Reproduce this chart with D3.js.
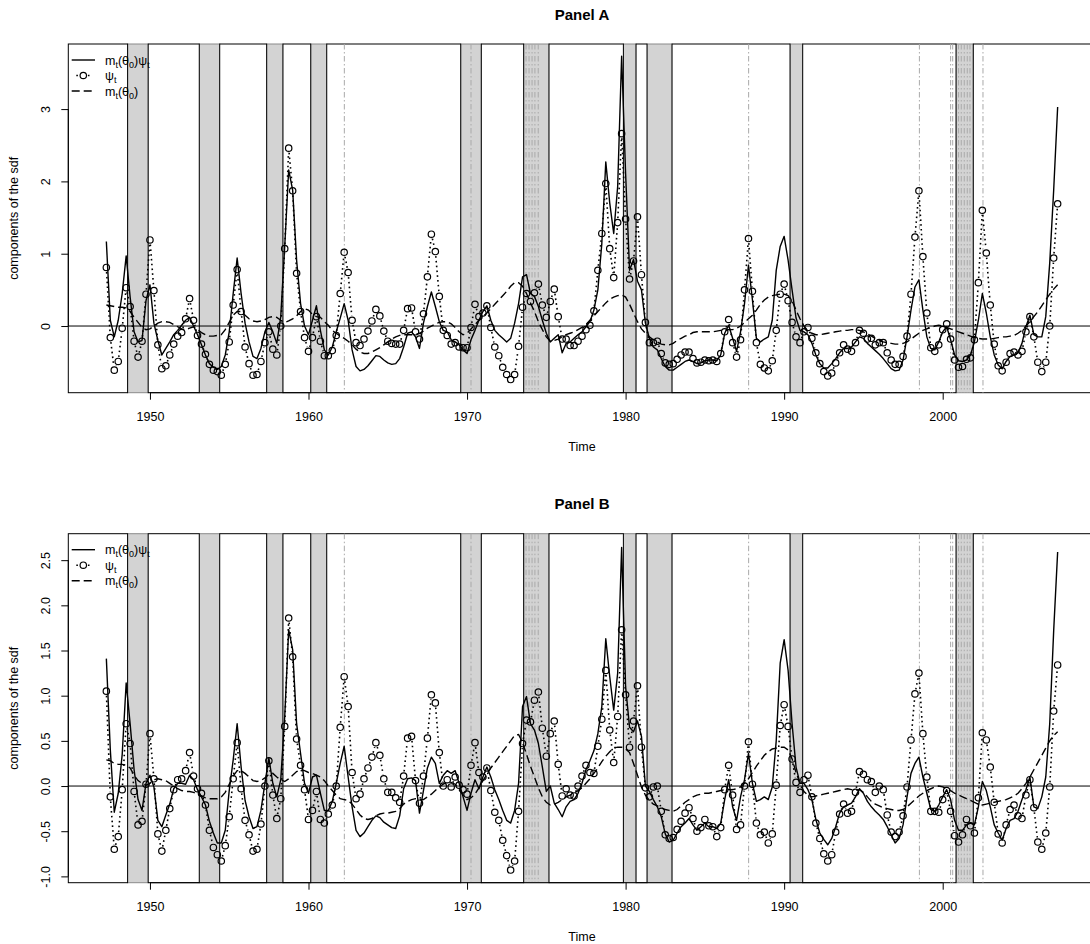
<!DOCTYPE html>
<html>
<head>
<meta charset="utf-8">
<script src="https://cdn.jsdelivr.net/npm/d3@7"></script>
<style>
  body { margin: 0; background: #fff; }
  svg text { font-family: "Liberation Sans", Arial, Helvetica, sans-serif; }
</style>
</head>
<body>
<svg id="chart"></svg>
<script>
// quarterly time index, 1947Q2 .. 2007Q2
const quarters = d3.range(241).map(i => 1947.25 + i / 4);

// NBER-type shaded periods and event lines (years)
const recessions = [[1948.59, 1949.89], [1953.11, 1954.40], [1957.36, 1958.39], [1960.14, 1961.15],
  [1969.60, 1970.90], [1973.57, 1975.17], [1979.86, 1980.66], [1981.35, 1982.93],
  [1990.37, 1991.17], [2000.84, 2001.93]];
const eventLines = [1962.26, 1970.25, 1973.72, 1973.91, 1974.10, 1974.28, 1974.49, 1987.76,
  1998.53, 2000.50, 2000.63, 2001.00, 2001.17, 2001.36, 2001.55, 2001.72, 2002.54];

const xTicks = [1950, 1960, 1970, 1980, 1990, 2000];
const yTicksA = [0, 1, 2, 3];
const yTicksB = [-1, -0.5, 0, 0.5, 1, 1.5, 2, 2.5];

// Panel A
const psiA = [
  0.81, -0.16, -0.61, -0.49, -0.03, 0.53, 0.27, -0.21, -0.43, -0.21,
  0.44, 1.19, 0.49, -0.26, -0.59, -0.55, -0.40, -0.25, -0.14, -0.09,
  0.10, 0.38, 0.08, -0.13, -0.25, -0.39, -0.53, -0.61, -0.63, -0.68,
  -0.53, -0.22, 0.29, 0.78, 0.20, -0.29, -0.52, -0.68, -0.67, -0.49,
  -0.23, -0.08, -0.32, -0.40, 0.00, 1.07, 2.46, 1.87, 0.73, 0.20,
  -0.16, -0.35, -0.16, 0.13, -0.21, -0.41, -0.41, -0.34, -0.13, 0.45,
  1.02, 0.74, 0.08, -0.23, -0.27, -0.18, -0.07, 0.07, 0.23, 0.14,
  -0.07, -0.21, -0.24, -0.25, -0.25, -0.06, 0.24, 0.25, -0.08, -0.18,
  0.17, 0.68, 1.27, 1.03, 0.41, -0.06, -0.13, -0.25, -0.23, -0.29,
  -0.30, -0.30, -0.02, 0.30, 0.13, 0.18, 0.28, -0.02, -0.29, -0.41,
  -0.57, -0.67, -0.74, -0.67, -0.28, 0.26, 0.45, 0.34, 0.46, 0.58,
  0.29, 0.12, 0.34, 0.51, 0.13, -0.18, -0.18, -0.27, -0.27, -0.21,
  -0.14, -0.05, 0.01, 0.21, 0.77, 1.28, 1.97, 1.07, 0.67, 1.43,
  2.66, 1.48, 0.65, 0.90, 1.51, 0.71, 0.05, -0.23, -0.23, -0.21,
  -0.38, -0.51, -0.53, -0.52, -0.46, -0.40, -0.36, -0.36, -0.45, -0.51,
  -0.50, -0.47, -0.48, -0.47, -0.49, -0.38, -0.08, 0.09, -0.23, -0.43,
  -0.19, 0.50, 1.21, 0.48, -0.23, -0.53, -0.58, -0.62, -0.48, -0.06,
  0.44, 0.58, 0.35, 0.05, -0.15, -0.23, -0.08, -0.02, -0.17, -0.37,
  -0.52, -0.63, -0.69, -0.65, -0.51, -0.37, -0.26, -0.32, -0.35, -0.23,
  -0.06, -0.10, -0.18, -0.17, -0.26, -0.23, -0.23, -0.37, -0.47, -0.53,
  -0.53, -0.42, -0.14, 0.44, 1.23, 1.87, 0.96, 0.18, -0.30, -0.35,
  -0.26, -0.05, 0.03, -0.18, -0.47, -0.57, -0.56, -0.46, -0.44, -0.19,
  0.60, 1.60, 1.01, 0.29, -0.25, -0.55, -0.62, -0.50, -0.38, -0.36,
  -0.40, -0.35, -0.08, 0.13, -0.15, -0.50, -0.63, -0.50, 0.00, 0.94,
  1.69];
const mpsiA = [
  1.17, 0.08, -0.15, 0.08, 0.45, 0.97, 0.40, -0.08, -0.22, -0.20,
  0.35, 0.57, 0.04, -0.20, -0.40, -0.31, -0.22, -0.12, -0.06, 0.01,
  0.08, 0.12, 0.00, -0.12, -0.26, -0.40, -0.52, -0.57, -0.60, -0.56,
  -0.40, -0.08, 0.45, 0.94, 0.45, 0.04, -0.22, -0.42, -0.45, -0.31,
  -0.08, 0.05, -0.08, -0.24, 0.13, 1.10, 2.16, 1.88, 0.91, 0.31,
  0.00, -0.12, 0.08, 0.28, -0.06, -0.33, -0.40, -0.29, -0.08, 0.11,
  0.31, 0.08, -0.33, -0.56, -0.62, -0.60, -0.55, -0.48, -0.41, -0.42,
  -0.47, -0.51, -0.53, -0.52, -0.45, -0.29, -0.10, -0.08, -0.15, -0.31,
  0.04, 0.27, 0.47, 0.27, 0.06, -0.06, -0.08, -0.19, -0.22, -0.26,
  -0.33, -0.38, -0.19, -0.06, 0.08, 0.20, 0.28, 0.08, -0.06, -0.12,
  -0.17, -0.22, -0.17, 0.04, 0.31, 0.68, 0.71, 0.45, 0.41, 0.27,
  0.08, -0.10, -0.22, -0.17, -0.12, -0.37, -0.24, -0.22, -0.17, -0.12,
  -0.08, -0.01, 0.06, 0.22, 0.50, 1.14, 2.27, 1.70, 1.28, 1.93,
  3.73, 2.11, 0.77, 0.92, 0.62, 0.50, 0.04, -0.17, -0.29, -0.33,
  -0.45, -0.56, -0.61, -0.61, -0.57, -0.53, -0.49, -0.47, -0.49, -0.52,
  -0.51, -0.48, -0.47, -0.47, -0.48, -0.40, -0.10, 0.01, -0.17, -0.35,
  -0.08, 0.31, 0.84, 0.36, -0.17, -0.22, -0.18, -0.15, 0.08, 0.77,
  1.10, 1.24, 0.91, 0.50, 0.11, -0.06, -0.08, -0.12, -0.24, -0.40,
  -0.52, -0.58, -0.58, -0.52, -0.45, -0.37, -0.31, -0.31, -0.29, -0.22,
  -0.15, -0.17, -0.24, -0.29, -0.34, -0.39, -0.45, -0.52, -0.59, -0.62,
  -0.61, -0.47, -0.15, 0.22, 0.54, 0.64, 0.22, -0.15, -0.31, -0.33,
  -0.22, -0.08, -0.01, -0.19, -0.40, -0.48, -0.49, -0.47, -0.40, -0.22,
  0.08, 0.45, 0.18, -0.15, -0.40, -0.54, -0.59, -0.49, -0.42, -0.40,
  -0.37, -0.24, -0.01, 0.15, -0.12, -0.15, -0.15, 0.13, 0.87, 1.88,
  3.03];
const mA = [
  0.29, 0.28, 0.27, 0.26, 0.26, 0.25, 0.20, 0.12, 0.05, -0.02,
  -0.05, -0.04, 0.00, 0.04, 0.06, 0.06, 0.05, 0.02, -0.01, -0.04,
  -0.05, -0.03, -0.01, -0.05, -0.09, -0.12, -0.14, -0.14, -0.13, -0.12,
  -0.05, 0.05, 0.15, 0.20, 0.20, 0.15, 0.10, 0.07, 0.06, 0.07,
  0.09, 0.12, 0.13, 0.12, 0.08, 0.05, 0.07, 0.10, 0.14, 0.20,
  0.24, 0.22, 0.16, 0.13, 0.12, 0.06, 0.01, -0.06, -0.10, -0.14,
  -0.17, -0.21, -0.26, -0.32, -0.36, -0.38, -0.38, -0.36, -0.33, -0.30,
  -0.26, -0.22, -0.18, -0.15, -0.13, -0.12, -0.12, -0.12, -0.12, -0.10,
  -0.07, -0.03, 0.00, 0.03, 0.05, 0.06, 0.06, 0.03, -0.02, -0.08,
  -0.12, -0.10, -0.04, 0.02, 0.08, 0.13, 0.18, 0.24, 0.30, 0.36,
  0.42, 0.48, 0.55, 0.60, 0.60, 0.55, 0.45, 0.32, 0.20, 0.06,
  -0.05, -0.15, -0.21, -0.20, -0.18, -0.15, -0.12, -0.10, -0.08, -0.05,
  -0.02, 0.02, 0.08, 0.14, 0.20, 0.26, 0.32, 0.37, 0.40, 0.42,
  0.43, 0.40, 0.30, 0.18, 0.06, -0.04, -0.10, -0.15, -0.19, -0.22,
  -0.25, -0.26, -0.26, -0.24, -0.20, -0.17, -0.14, -0.12, -0.09, -0.08,
  -0.08, -0.08, -0.08, -0.08, -0.07, -0.06, -0.06, -0.05, -0.05, -0.03,
  0.00, 0.05, 0.10, 0.15, 0.22, 0.30, 0.36, 0.40, 0.42, 0.43,
  0.44, 0.44, 0.42, 0.35, 0.22, 0.10, 0.00, -0.07, -0.10, -0.12,
  -0.12, -0.11, -0.10, -0.09, -0.08, -0.07, -0.06, -0.06, -0.05, -0.05,
  -0.06, -0.08, -0.11, -0.14, -0.17, -0.20, -0.22, -0.23, -0.24, -0.25,
  -0.25, -0.24, -0.22, -0.18, -0.14, -0.10, -0.06, -0.04, -0.02, 0.00,
  0.01, 0.00, -0.02, -0.04, -0.06, -0.08, -0.10, -0.12, -0.14, -0.16,
  -0.17, -0.18, -0.18, -0.18, -0.17, -0.16, -0.15, -0.15, -0.14, -0.13,
  -0.10, -0.06, 0.00, 0.06, 0.13, 0.20, 0.28, 0.36, 0.44, 0.51,
  0.57];

// Panel B
const psiB = [
  1.05, -0.12, -0.70, -0.56, -0.04, 0.69, 0.47, -0.06, -0.43, -0.39,
  0.02, 0.58, 0.08, -0.53, -0.72, -0.49, -0.25, -0.04, 0.07, 0.08,
  0.17, 0.37, 0.11, -0.03, -0.08, -0.21, -0.49, -0.68, -0.76, -0.83,
  -0.66, -0.34, 0.08, 0.48, -0.03, -0.38, -0.54, -0.72, -0.70, -0.42,
  0.00, 0.28, -0.10, -0.36, -0.14, 0.66, 1.86, 1.43, 0.52, 0.23,
  -0.04, -0.37, -0.27, -0.06, -0.37, -0.41, -0.31, -0.21, 0.00, 0.65,
  1.21, 0.88, 0.15, -0.14, -0.09, 0.08, 0.20, 0.32, 0.48, 0.34,
  0.08, -0.07, -0.07, -0.13, -0.18, 0.11, 0.53, 0.55, 0.06, -0.19,
  0.11, 0.53, 1.01, 0.92, 0.37, 0.00, 0.07, -0.01, 0.10, 0.01,
  -0.04, -0.09, 0.23, 0.48, 0.15, 0.10, 0.20, -0.05, -0.29, -0.38,
  -0.60, -0.77, -0.93, -0.83, -0.28, 0.47, 0.73, 0.71, 0.95, 1.04,
  0.64, 0.33, 0.58, 0.72, 0.24, -0.11, -0.03, -0.10, -0.11, 0.00,
  0.11, 0.23, 0.15, 0.14, 0.44, 0.74, 1.28, 0.62, 0.26, 0.77,
  1.73, 1.01, 0.43, 0.72, 1.11, 0.43, -0.02, -0.12, -0.01, 0.00,
  -0.28, -0.54, -0.58, -0.57, -0.48, -0.39, -0.30, -0.24, -0.36, -0.50,
  -0.46, -0.37, -0.44, -0.45, -0.56, -0.46, -0.04, 0.23, -0.10, -0.48,
  -0.43, 0.00, 0.49, 0.02, -0.41, -0.54, -0.51, -0.63, -0.53, 0.01,
  0.67, 0.90, 0.66, 0.30, 0.04, -0.07, 0.07, 0.12, -0.12, -0.41,
  -0.58, -0.75, -0.83, -0.76, -0.51, -0.31, -0.20, -0.30, -0.28, -0.07,
  0.16, 0.13, 0.07, 0.05, -0.07, 0.00, -0.04, -0.32, -0.51, -0.56,
  -0.51, -0.33, -0.01, 0.51, 1.02, 1.25, 0.58, 0.10, -0.28, -0.28,
  -0.29, -0.15, -0.05, -0.28, -0.55, -0.62, -0.54, -0.37, -0.44, -0.52,
  -0.13, 0.59, 0.51, 0.21, -0.18, -0.53, -0.63, -0.43, -0.26, -0.21,
  -0.33, -0.36, -0.10, 0.07, -0.24, -0.62, -0.70, -0.52, -0.01, 0.83,
  1.34];
const mpsiB = [
  1.41, 0.40, -0.29, -0.08, 0.35, 1.14, 0.69, 0.18, -0.15, -0.27,
  0.03, 0.12, -0.01, -0.38, -0.45, -0.32, -0.20, -0.03, 0.03, 0.03,
  0.02, 0.12, 0.07, -0.04, -0.12, -0.21, -0.39, -0.52, -0.63, -0.63,
  -0.49, -0.05, 0.29, 0.69, 0.21, -0.16, -0.34, -0.47, -0.45, -0.27,
  0.03, 0.31, 0.03, -0.12, 0.07, 0.77, 1.73, 1.51, 0.69, 0.36,
  0.03, -0.08, 0.10, 0.12, -0.08, -0.27, -0.27, -0.17, 0.03, 0.25,
  0.44, 0.10, -0.23, -0.49, -0.56, -0.52, -0.45, -0.38, -0.33, -0.35,
  -0.40, -0.43, -0.46, -0.47, -0.33, -0.03, 0.08, 0.09, 0.06, -0.30,
  -0.05, 0.20, 0.32, 0.25, 0.03, 0.12, 0.17, 0.14, 0.17, 0.03,
  -0.12, -0.27, -0.08, 0.07, -0.03, 0.10, 0.21, 0.10, -0.04, -0.15,
  -0.27, -0.38, -0.41, -0.27, 0.03, 0.88, 0.99, 0.69, 0.62, 0.47,
  0.21, -0.06, 0.00, -0.19, -0.26, -0.34, -0.23, -0.17, -0.15, -0.08,
  0.03, 0.18, 0.28, 0.39, 0.58, 0.88, 1.63, 1.21, 0.84, 1.25,
  2.64, 1.10, 0.65, 0.60, 0.72, 0.55, 0.00, -0.06, -0.15, -0.23,
  -0.34, -0.53, -0.62, -0.60, -0.52, -0.45, -0.41, -0.36, -0.43, -0.49,
  -0.45, -0.41, -0.45, -0.45, -0.47, -0.41, -0.15, 0.07, -0.23, -0.38,
  -0.12, 0.07, 0.36, 0.03, -0.17, -0.15, -0.12, -0.15, -0.01, 0.50,
  1.36, 1.62, 1.28, 0.69, 0.21, 0.03, 0.03, -0.04, -0.15, -0.37,
  -0.52, -0.59, -0.65, -0.58, -0.45, -0.30, -0.23, -0.21, -0.19, -0.12,
  -0.03, -0.08, -0.17, -0.23, -0.28, -0.32, -0.37, -0.45, -0.54, -0.63,
  -0.58, -0.43, -0.12, 0.14, 0.25, 0.32, 0.10, -0.08, -0.26, -0.28,
  -0.21, -0.12, -0.04, -0.15, -0.38, -0.49, -0.49, -0.43, -0.41, -0.43,
  -0.23, 0.05, -0.05, -0.23, -0.43, -0.52, -0.60, -0.47, -0.38, -0.36,
  -0.28, -0.15, -0.04, 0.10, -0.23, -0.25, -0.12, 0.10, 0.69, 1.72,
  2.59];
const mB = [
  0.29, 0.28, 0.25, 0.24, 0.24, 0.23, 0.20, 0.12, 0.06, 0.03,
  0.01, 0.03, 0.07, 0.08, 0.07, 0.06, 0.03, 0.00, -0.03, -0.05,
  -0.06, -0.06, -0.07, -0.09, -0.11, -0.13, -0.14, -0.14, -0.14, -0.12,
  -0.07, 0.02, 0.11, 0.17, 0.17, 0.14, 0.10, 0.06, 0.05, 0.06,
  0.09, 0.13, 0.14, 0.10, 0.07, 0.05, 0.08, 0.12, 0.16, 0.18,
  0.17, 0.15, 0.14, 0.12, 0.10, 0.06, 0.00, -0.05, -0.10, -0.14,
  -0.15, -0.16, -0.20, -0.26, -0.32, -0.36, -0.37, -0.36, -0.33, -0.31,
  -0.30, -0.30, -0.29, -0.28, -0.25, -0.20, -0.17, -0.15, -0.14, -0.15,
  -0.15, -0.12, -0.09, -0.05, -0.01, 0.02, 0.04, 0.04, 0.02, -0.04,
  -0.10, -0.15, -0.13, -0.09, -0.02, 0.06, 0.13, 0.20, 0.26, 0.32,
  0.38, 0.44, 0.50, 0.56, 0.57, 0.48, 0.35, 0.22, 0.10, -0.02,
  -0.12, -0.18, -0.21, -0.20, -0.18, -0.15, -0.12, -0.10, -0.08, -0.05,
  -0.02, 0.03, 0.08, 0.14, 0.20, 0.27, 0.33, 0.38, 0.42, 0.43,
  0.43, 0.41, 0.37, 0.25, 0.12, -0.01, -0.10, -0.16, -0.20, -0.22,
  -0.24, -0.26, -0.27, -0.28, -0.26, -0.22, -0.18, -0.15, -0.12, -0.10,
  -0.09, -0.08, -0.08, -0.07, -0.06, -0.05, -0.04, -0.04, -0.04, -0.03,
  -0.01, 0.03, 0.08, 0.15, 0.22, 0.28, 0.34, 0.38, 0.41, 0.42,
  0.43, 0.43, 0.40, 0.30, 0.15, 0.03, -0.06, -0.10, -0.12, -0.11,
  -0.10, -0.09, -0.08, -0.07, -0.06, -0.05, -0.04, -0.03, -0.04, -0.05,
  -0.04, -0.07, -0.12, -0.17, -0.20, -0.22, -0.24, -0.25, -0.26, -0.27,
  -0.27, -0.26, -0.23, -0.19, -0.15, -0.11, -0.08, -0.05, -0.03, -0.01,
  0.00, -0.01, -0.03, -0.05, -0.08, -0.10, -0.12, -0.14, -0.16, -0.18,
  -0.20, -0.21, -0.20, -0.19, -0.18, -0.17, -0.16, -0.15, -0.13, -0.11,
  -0.08, -0.03, 0.03, 0.10, 0.18, 0.26, 0.34, 0.42, 0.50, 0.56,
  0.60];

const width = 1090, height = 944;
const font = '"Liberation Sans", Arial, Helvetica, sans-serif';
const xDomain = [1944.85, 2009.65];
const pointR = 3.2;
const pointGap = 4.6; // type "b": segments stop short of the circles

const svg = d3.select('#chart').attr('width', width).attr('height', height);

const x = d3.scaleLinear().domain(xDomain).range([68.3, 1095.7]);

const expansions = d3.range(recessions.length + 1).map(k => [
  k === 0 ? xDomain[0] : recessions[k - 1][1],
  k === recessions.length ? xDomain[1] : recessions[k][0]
]);

// dotted segments between points, leaving a gap around each point
function gappedPath(pts) {
  let d = '';
  for (let k = 1; k < pts.length; k++) {
    let [x0, y0] = pts[k - 1], [x1, y1] = pts[k];
    let len = Math.hypot(x1 - x0, y1 - y0);
    if (len <= 2 * pointGap) continue;
    let ux = (x1 - x0) / len, uy = (y1 - y0) / len;
    d += `M${x0 + ux * pointGap},${y0 + uy * pointGap}L${x1 - ux * pointGap},${y1 - uy * pointGap}`;
  }
  return d;
}

function drawPanel(cfg) {
  let g = svg.append('g');
  let y = d3.scaleLinear().domain(cfg.yDomain).range([cfg.bottom, cfg.top]);
  let h = cfg.bottom - cfg.top;

  // recession bands, then expansion boxes with black borders
  g.selectAll('rect.rec').data(recessions).join('rect')
    .attr('class', 'rec')
    .attr('x', d => x(d[0])).attr('width', d => x(d[1]) - x(d[0]))
    .attr('y', cfg.top).attr('height', h)
    .attr('fill', '#d3d3d3').attr('stroke', '#8a8a8a').attr('stroke-width', 1);
  g.selectAll('rect.exp').data(expansions).join('rect')
    .attr('class', 'exp')
    .attr('x', d => x(d[0])).attr('width', d => x(d[1]) - x(d[0]))
    .attr('y', cfg.top).attr('height', h)
    .attr('fill', '#fff').attr('stroke', '#000').attr('stroke-width', 1);

  // event lines
  g.selectAll('line.ev').data(eventLines).join('line')
    .attr('x1', d => x(d)).attr('x2', d => x(d))
    .attr('y1', cfg.top).attr('y2', cfg.bottom)
    .attr('stroke', '#a9a9a9').attr('stroke-width', 1)
    .attr('stroke-dasharray', '5.5,2.5,1.5,2.5');

  // zero line
  g.append('line')
    .attr('x1', x(xDomain[0])).attr('x2', x(xDomain[1]))
    .attr('y1', y(0)).attr('y2', y(0))
    .attr('stroke', '#000').attr('stroke-width', 1);

  let line = vals => d3.line().x((d, i) => x(quarters[i])).y(d => y(d))(vals);

  g.append('path').attr('d', line(cfg.m))
    .attr('fill', 'none').attr('stroke', '#000').attr('stroke-width', 1.4)
    .attr('stroke-dasharray', '8,4');
  g.append('path').attr('d', line(cfg.mpsi))
    .attr('fill', 'none').attr('stroke', '#000').attr('stroke-width', 1.4)
    .attr('stroke-linejoin', 'round');

  let psiPts = cfg.psi.map((d, i) => [x(quarters[i]), y(d)]);
  g.append('path').attr('d', gappedPath(psiPts))
    .attr('fill', 'none').attr('stroke', '#000').attr('stroke-width', 1.6)
    .attr('stroke-dasharray', '1.6,3.2');
  g.selectAll('circle.psi').data(psiPts).join('circle')
    .attr('cx', d => d[0]).attr('cy', d => d[1])
    .attr('r', pointR).attr('fill', 'none').attr('stroke', '#000').attr('stroke-width', 1.2);

  // x axis
  let xAxisG = g.append('g')
    .attr('transform', `translate(0,${cfg.bottom})`)
    .call(d3.axisBottom(x).tickValues(xTicks).tickSize(7).tickSizeOuter(0).tickPadding(12.9).tickFormat(d3.format('d')));
  xAxisG.select('.domain').attr('d', `M${x(xTicks[0])},0H${x(xTicks[xTicks.length - 1])}`);
  xAxisG.attr('font-size', 12.5).attr('font-family', font);

  // y axis, labels parallel to the axis
  let yAxisG = g.append('g')
    .attr('transform', `translate(${x(xDomain[0])},0)`)
    .call(d3.axisLeft(y).tickValues(cfg.yTicks).tickSize(7).tickSizeOuter(0).tickFormat(cfg.fmt));
  yAxisG.select('.domain').attr('d', `M0,${y(cfg.yTicks[0])}V${y(cfg.yTicks[cfg.yTicks.length - 1])}`);
  yAxisG.attr('font-size', 12.5).attr('font-family', font);
  yAxisG.selectAll('text')
    .attr('x', null).attr('dy', null)
    .attr('text-anchor', 'middle')
    .attr('transform', 'translate(-18.5,0) rotate(-90)');

  // titles
  svg.append('text').attr('x', 582).attr('y', cfg.top - 24.5)
    .attr('text-anchor', 'middle').attr('font-size', 15).attr('font-weight', 'bold')
    .text(cfg.title);
  svg.append('text').attr('x', 582).attr('y', cfg.bottom + 57.8)
    .attr('text-anchor', 'middle').attr('font-size', 12.5).text('Time');
  svg.append('text')
    .attr('transform', `translate(18,${(cfg.top + cfg.bottom) / 2}) rotate(-90)`)
    .attr('text-anchor', 'middle').attr('font-size', 12.5).text('components of the sdf');

  // legend
  let leg = g.append('g').attr('transform', `translate(0,${cfg.top})`);
  let rows = [16, 31.5, 47];
  leg.append('line').attr('x1', 71.7).attr('x2', 95).attr('y1', rows[0]).attr('y2', rows[0])
    .attr('stroke', '#000').attr('stroke-width', 1.4);
  leg.append('path')
    .attr('d', gappedPath([[71.7, rows[1]], [83.3, rows[1]], [95, rows[1]]]))
    .attr('fill', 'none').attr('stroke', '#000').attr('stroke-width', 1.6).attr('stroke-dasharray', '1.6,3.2');
  leg.append('circle').attr('cx', 83.3).attr('cy', rows[1]).attr('r', pointR)
    .attr('fill', 'none').attr('stroke', '#000').attr('stroke-width', 1.2);
  leg.append('line').attr('x1', 71.7).attr('x2', 95).attr('y1', rows[2]).attr('y2', rows[2])
    .attr('stroke', '#000').attr('stroke-width', 1.4).attr('stroke-dasharray', '8,4');

  let label = (row, parts) => {
    let t = leg.append('text').attr('x', 105).attr('y', rows[row] + 4.5).attr('font-size', 12.5);
    let shift = 0;
    parts.forEach(p => {
      let target = p.sub ? 3 : 0;
      t.append('tspan').attr('dy', target - shift).attr('font-size', p.sub ? 9 : 12.5).text(p.s);
      shift = target;
    });
  };
  label(0, [{ s: 'm' }, { s: 't', sub: true }, { s: '(θ' }, { s: '0', sub: true }, { s: ')ψ' }, { s: 't', sub: true }]);
  label(1, [{ s: 'ψ' }, { s: 't', sub: true }]);
  label(2, [{ s: 'm' }, { s: 't', sub: true }, { s: '(θ' }, { s: '0', sub: true }, { s: ')' }]);
}

drawPanel({
  title: 'Panel A', top: 44, bottom: 392.7, yDomain: [-0.922, 3.90],
  yTicks: yTicksA, fmt: d3.format('d'),
  psi: psiA, mpsi: mpsiA, m: mA
});
drawPanel({
  title: 'Panel B', top: 533.7, bottom: 882.7, yDomain: [-1.070, 2.793],
  yTicks: yTicksB, fmt: d => d.toFixed(1),
  psi: psiB, mpsi: mpsiB, m: mB
});
</script>
</body>
</html>
